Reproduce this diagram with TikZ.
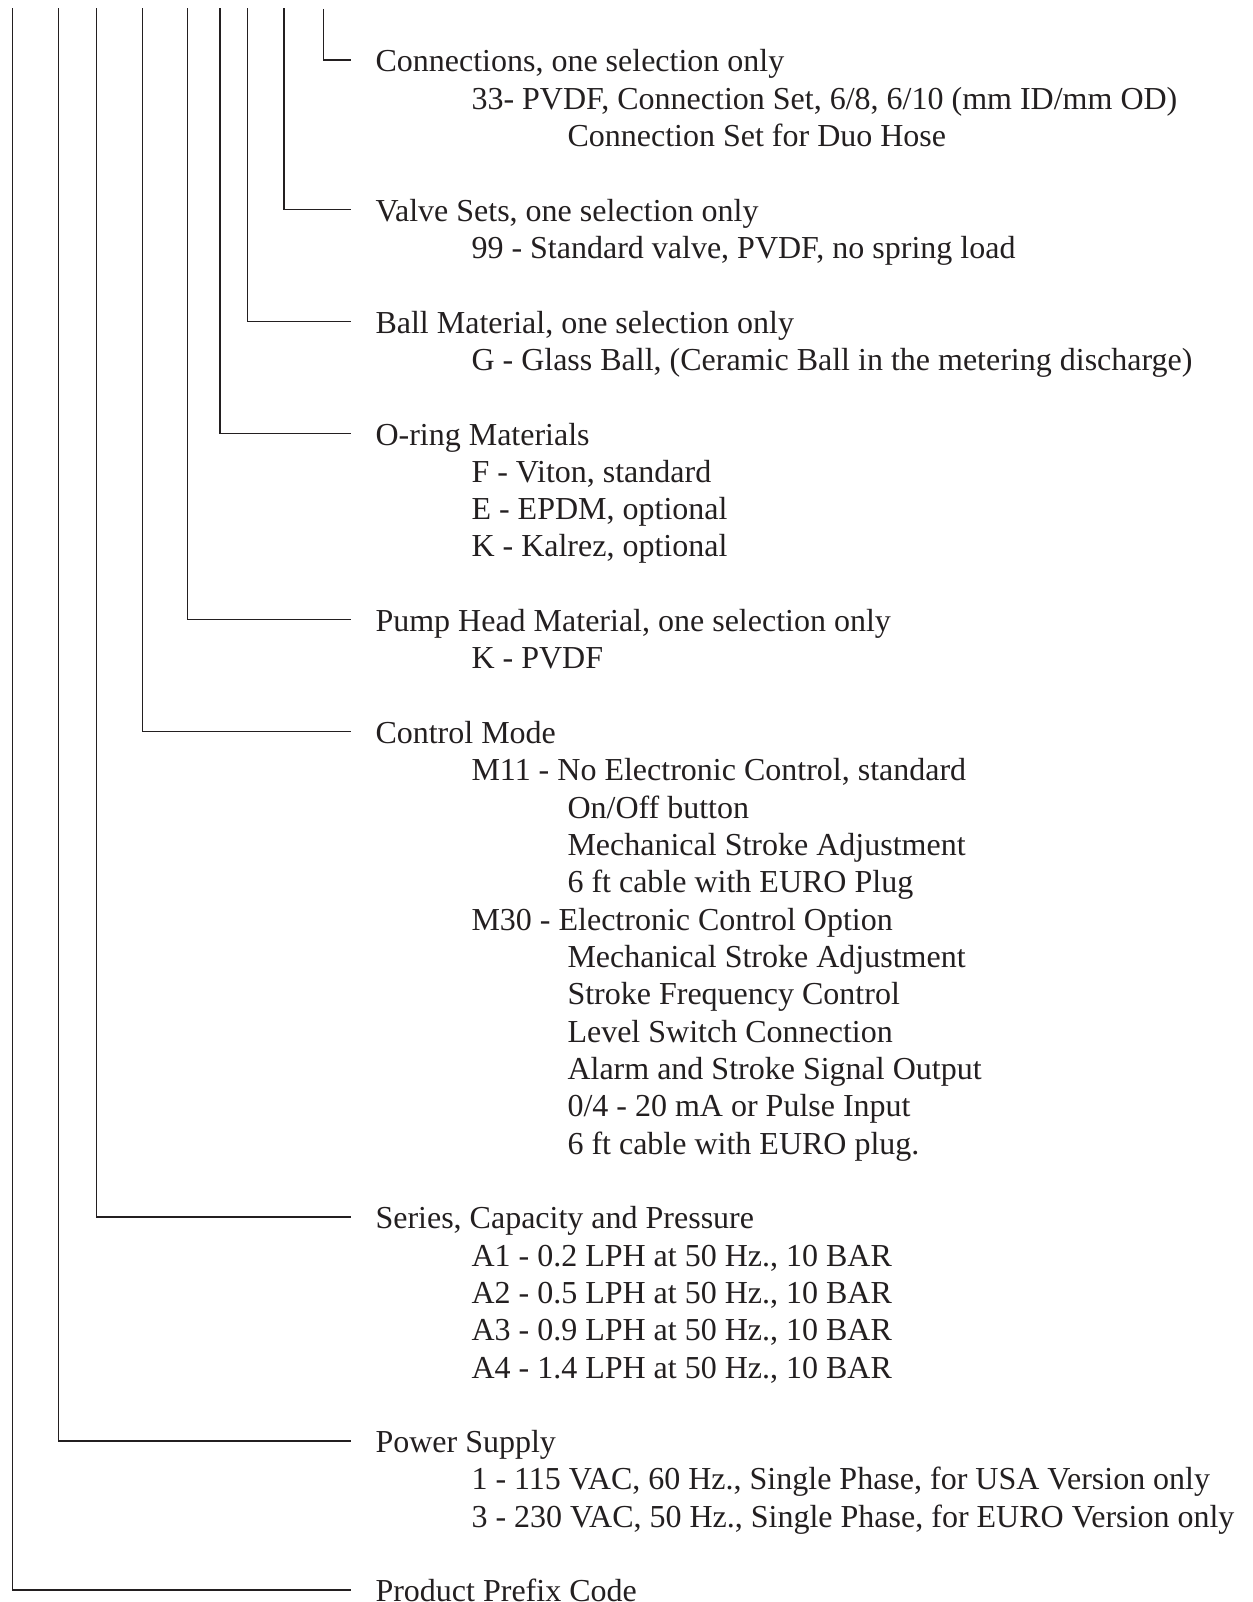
\documentclass[tikz,border=0pt]{standalone}
\usepackage{fontspec}
\setmainfont{Liberation Serif}
\definecolor{ink}{HTML}{231F20}
\newcommand\Row[4]{\node[txt] (#1) at ({375.5+96*#2},{71.8+37.32*#3}) {#4};}
\begin{document}
\begin{tikzpicture}[x=1pt,y=-1pt,
  txt/.style={anchor=base west,inner sep=0pt,outer sep=0pt,text=ink,font=\fontsize{32}{37.32}\selectfont},
  wire/.style={draw=ink,line width=1.3pt}]
\useasboundingbox (0,0) rectangle (1252,1602);
% Connections
\Row{conn}{0}{0}{Connections, one selection only}
\Row{conna}{1}{1}{33- PVDF, Connection Set, 6/8, 6/10 (mm ID/mm OD)}
\Row{connb}{2}{2}{Connection Set for Duo Hose}
% Valve
\Row{valve}{0}{4}{Valve Sets, one selection only}
\Row{valvea}{1}{5}{99 - Standard valve, PVDF, no spring load}
% Ball
\Row{ball}{0}{7}{Ball Material, one selection only}
\Row{balla}{1}{8}{G - Glass Ball, (Ceramic Ball in the metering discharge)}
% O-ring
\Row{oring}{0}{10}{O-ring Materials}
\Row{oringa}{1}{11}{F - Viton, standard}
\Row{oringb}{1}{12}{E - EPDM, optional}
\Row{oringc}{1}{13}{K - Kalrez, optional}
% Pump head
\Row{pump}{0}{15}{Pump Head Material, one selection only}
\Row{pumpa}{1}{16}{K - PVDF}
% Control
\Row{ctrl}{0}{18}{Control Mode}
\Row{ctrla}{1}{19}{M11 - No Electronic Control, standard}
\Row{ctrlb}{2}{20}{On/Off button}
\Row{ctrlc}{2}{21}{Mechanical Stroke Adjustment}
\Row{ctrld}{2}{22}{6 ft cable with EURO Plug}
\Row{ctrle}{1}{23}{M30 - Electronic Control Option}
\Row{ctrlf}{2}{24}{Mechanical Stroke Adjustment}
\Row{ctrlg}{2}{25}{Stroke Frequency Control}
\Row{ctrlh}{2}{26}{Level Switch Connection}
\Row{ctrli}{2}{27}{Alarm and Stroke Signal Output}
\Row{ctrlj}{2}{28}{0/4 - 20 mA or Pulse Input}
\Row{ctrlk}{2}{29}{6 ft cable with EURO plug.}
% Series
\Row{ser}{0}{31}{Series, Capacity and Pressure}
\Row{sera}{1}{32}{A1 - 0.2 LPH at 50 Hz., 10 BAR}
\Row{serb}{1}{33}{A2 - 0.5 LPH at 50 Hz., 10 BAR}
\Row{serc}{1}{34}{A3 - 0.9 LPH at 50 Hz., 10 BAR}
\Row{serd}{1}{35}{A4 - 1.4 LPH at 50 Hz., 10 BAR}
% Power
\Row{pow}{0}{37}{Power Supply}
\Row{powa}{1}{38}{1 - 115 VAC, 60 Hz., Single Phase, for USA Version only}
\Row{powb}{1}{39}{3 - 230 VAC, 50 Hz., Single Phase, for EURO Version only}
% Prefix
\Row{pre}{0}{41}{Product Prefix Code}
% connector tops
\coordinate (tpre) at (12.7,8.3);
\coordinate (tpow) at (58.7,8.3);
\coordinate (tser) at (96.7,8.3);
\coordinate (tctrl) at (142.7,8.3);
\coordinate (tpump) at (187.3,8.3);
\coordinate (toring) at (220,8.3);
\coordinate (tball) at (247.3,8.3);
\coordinate (tvalve) at (284,8.3);
\coordinate (tconn) at (323.3,9);
\foreach \n in {pre,pow,ser,ctrl,pump,oring,ball,valve,conn}
  \draw[wire] (t\n) |- ([xshift=-24.8pt,yshift=11.8pt]\n.base west);
\end{tikzpicture}
\end{document}
